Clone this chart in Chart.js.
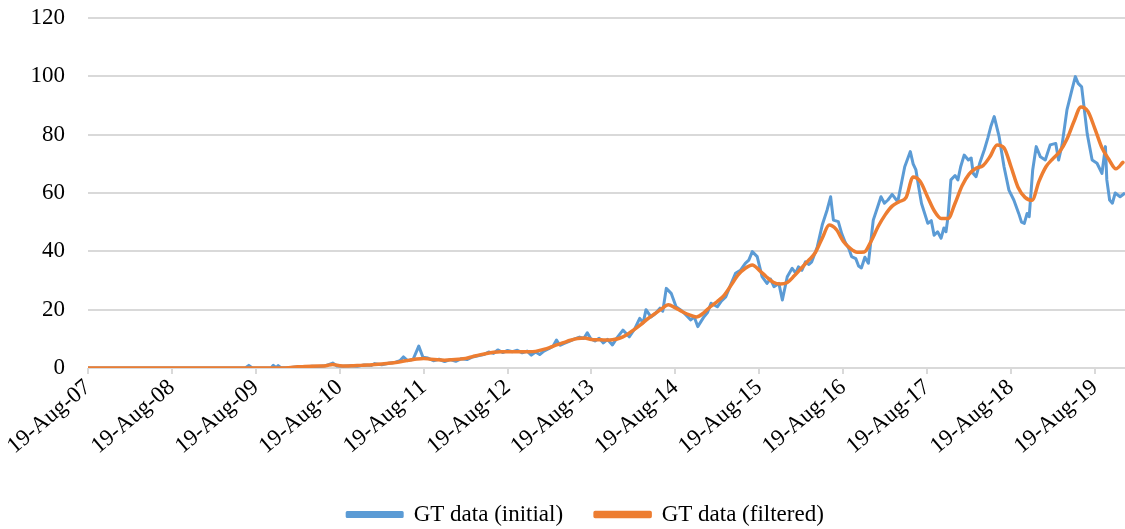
<!DOCTYPE html>
<html>
<head>
<meta charset="utf-8">
<title>GT data</title>
<script src="https://cdn.jsdelivr.net/npm/chart.js@4.4.1/dist/chart.umd.min.js"></script>
<style>
  html, body { margin: 0; padding: 0; background: #fff; }
  #wrap { width: 1125px; height: 529px; }
</style>
</head>
<body>
<div id="wrap"><canvas id="gtChart" width="1125" height="529"></canvas></div>
<script>
// x = months since 19-Aug-07
const yearLabels = ['19-Aug-07', '19-Aug-08', '19-Aug-09', '19-Aug-10', '19-Aug-11', '19-Aug-12',
  '19-Aug-13', '19-Aug-14', '19-Aug-15', '19-Aug-16', '19-Aug-17', '19-Aug-18', '19-Aug-19'];
const yTicks = [0, 20, 40, 60, 80, 100, 120];

// GT data (filtered), one value per month, month 0..148
const filteredValues = [
  0, 0, 0, 0, 0, 0, 0, 0, 0, 0, 0, 0, 0, 0, 0, 0, 0, 0, 0, 0, 0, 0, 0, 0, 0, 0, 0, 0, 0,
  0.2, 0.4, 0.5, 0.6, 0.7, 0.8, 1.2, 0.8, 0.7, 0.8, 0.9, 1.0, 1.2, 1.4, 1.6, 1.9, 2.3, 2.7, 3.1, 3.3,
  3.0, 2.8, 2.7, 2.8, 3.0, 3.3, 3.9, 4.5, 5.0, 5.4, 5.6, 5.6,
  5.6, 5.6, 5.6, 5.7, 6.3, 7.0, 7.9, 8.7, 9.5, 10.1, 10.3, 9.8,
  9.7, 9.6, 9.7, 10.2, 11.3, 13.0, 14.8, 16.8, 18.5, 20.2, 21.7, 20.6,
  19.3, 18.2, 17.5, 18.8, 21.0, 22.8, 25.0, 28.5, 32.0, 34.2, 35.3, 33.5,
  31.3, 29.4, 28.8, 29.3, 31.6, 34.2, 36.8, 39.5, 44.5, 49.0, 47.5, 43.5,
  41.0, 39.7, 39.8, 43.5, 48.5, 52.5, 55.5, 57.0, 58.5, 65.5, 64.0, 59.0,
  54.0, 51.3, 51.3, 56.5, 62.5, 66.5, 68.5, 69.4, 72.5, 76.5, 75.5, 69.0,
  62.0, 58.5, 57.5, 64.0, 69.0, 71.8, 74.3, 78.5, 84.5, 89.5, 88.0, 82.0,
  75.5, 71.5, 68.3, 70.5
];

// GT data (initial), read at irregular points (months since 19-Aug-07)
const initialMonths = [
  0, 22.5, 23, 23.5, 26.2, 26.5, 26.9, 27.2, 27.6, 29, 30, 31, 32, 33, 34, 35, 35.6, 36.5, 37.5, 38.5,
  39.5, 40.5, 41, 42, 43, 44, 44.6, 45.1, 45.7, 46.5, 47.3, 47.9, 48.6, 49.4, 50.2, 51, 51.8, 52.6, 53.4, 54.2,
  55, 55.8, 56.6, 57.3, 58, 58.6, 59.3, 60, 60.7, 61.4, 62.1, 62.8, 63.4, 64, 64.6, 65.2, 65.9, 66.5, 67, 67.5,
  68.2, 68.9, 69.6, 70.3, 70.9, 71.4, 71.9, 72.5, 73.1, 73.7, 74.3, 75, 75.7, 76.5, 77.4, 78.2, 78.9, 79.4, 79.8, 80.5,
  81.1, 81.8, 82.2, 82.7, 83.4, 84.1, 84.7, 85.3, 86.2, 86.7, 87.2, 88.1, 88.6, 89.1, 90, 90.6, 91.2, 91.9, 92.6, 93.3,
  94, 94.5, 95, 95.7, 96.4, 97.1, 97.6, 98.1, 98.8, 99.3, 100, 100.7, 101.2, 101.6, 102.1, 102.6, 103.1, 103.5, 104.3, 105,
  105.7, 106.2, 106.6, 107.3, 107.8, 108.3, 108.8, 109.2, 109.8, 110.2, 110.6, 111.1, 111.6, 112.3, 112.9, 113.4, 113.9, 114.4, 115, 115.8,
  116.3, 116.8, 117.6, 118, 118.4, 118.8, 119.2, 120.1, 120.6, 121, 121.5, 122, 122.4, 122.7, 123, 123.4, 124, 124.4, 124.8, 125.3,
  125.9, 126.3, 126.6, 127, 127.5, 128.2, 128.7, 129.1, 129.6, 130.3, 131, 131.7, 132.4, 133.1, 133.5, 133.9, 134.3, 134.6, 135.1, 135.6,
  136.2, 136.9, 137.6, 138.4, 138.8, 139.3, 140, 140.7, 141.2, 141.6, 142.1, 142.9, 143.6, 144.3, 145, 145.5, 145.7, 146.1, 146.5, 146.9,
  147.6, 148.3
];
const initialValues = [
  0, 0, 0.9, 0, 0.1, 0.9, 0.1, 0.8, 0.1, 0.2, 0.4, 0.3, 0.6, 0.5, 0.8, 1.7, 0.7, 0.6, 0.8, 0.6,
  1.0, 0.9, 1.5, 1.1, 1.6, 2.0, 2.5, 3.8, 2.5, 3.0, 7.5, 3.7, 3.4, 2.5, 3.0, 2.2, 2.9, 2.3, 3.2, 2.9,
  3.8, 4.2, 4.6, 5.5, 5.0, 6.2, 5.3, 6.0, 5.6, 6.1, 5.2, 5.8, 4.4, 5.5, 4.6, 5.8, 6.6, 7.5, 9.6, 7.8,
  8.5, 9.2, 10.0, 10.6, 10.1, 12.1, 10.0, 9.3, 10.2, 8.6, 9.8, 7.9, 10.5, 13.0, 10.7, 13.5, 17.0, 15.5, 20.0, 17.5,
  18.6, 20.5, 19.5, 27.3, 25.6, 21.0, 20.0, 18.7, 16.5, 17.5, 14.2, 17.6, 19.0, 22.2, 21.0, 23.0, 24.4, 28.5, 32.5, 33.5,
  35.9, 37.0, 39.9, 38.2, 31.3, 29.0, 30.5, 27.9, 29.0, 23.3, 31.3, 34.2, 32.5, 34.7, 33.5, 36.4, 35.5, 36.4, 41.6, 49.0,
  54.2, 58.7, 50.7, 50.2, 46.0, 43.0, 41.0, 38.2, 37.5, 35.0, 34.3, 38.0, 35.9, 50.7, 55.0, 58.7, 56.5, 57.6, 59.5, 57.0,
  63.0, 69.0, 74.2, 70.0, 67.9, 62.0, 56.4, 49.6, 50.5, 45.5, 46.7, 44.5, 48.0, 46.7, 52.0, 64.5, 66.0, 64.5, 69.0, 73.0,
  71.3, 72.0, 66.7, 65.6, 70.0, 74.9, 79.0, 82.7, 86.2, 79.3, 69.0, 61.0, 57.6, 53.0, 50.0, 49.6, 53.0, 51.9, 67.9, 75.9,
  72.4, 71.3, 76.5, 77.0, 71.3, 76.5, 88.5, 95.3, 99.9, 97.6, 96.4, 80.2, 71.3, 70.2, 66.7, 75.9, 64.5, 57.6, 56.5, 60.0,
  58.7, 60.0
];

const fontFamily = '"Liberation Serif", "Times New Roman", serif';
const gridColor = '#d9d9d9';

const initialPoints = initialMonths.map((m, i) => ({ x: m, y: initialValues[i] }));
const filteredPoints = filteredValues.map((v, i) => ({ x: i, y: v }));

// the legend in the original sits a bit left of the plot-area centre
const legendShift = {
  id: 'legendShift',
  afterLayout: function (chart) {
    chart.legend.left -= 21;
    chart.legend.right -= 21;
  }
};

const ctx = document.getElementById('gtChart').getContext('2d');
new Chart(ctx, {
  type: 'line',
  data: {
    datasets: [
      {
        label: 'GT data (filtered)',
        data: filteredPoints,
        borderColor: '#ED7D31',
        backgroundColor: '#ED7D31',
        borderWidth: 3.5,
        pointRadius: 0,
        cubicInterpolationMode: 'monotone',
        borderJoinStyle: 'round',
        borderCapStyle: 'round'
      },
      {
        label: 'GT data (initial)',
        data: initialPoints,
        borderColor: '#5B9BD5',
        backgroundColor: '#5B9BD5',
        borderWidth: 3,
        pointRadius: 0,
        tension: 0,
        borderJoinStyle: 'round'
      }
    ]
  },
  plugins: [legendShift],
  options: {
    responsive: false,
    animation: false,
    layout: { padding: { top: 18, right: 0, bottom: -7, left: 0 } },
    scales: {
      x: {
        type: 'linear',
        min: 0,
        max: 148.3,
        afterBuildTicks: function (scale) {
          scale.ticks = yearLabels.map((l, i) => ({ value: i * 12 }));
        },
        afterFit: function (scale) {
          scale.height = 103;
          scale.paddingLeft = 0;
          scale.paddingRight = 0;
        },
        grid: { drawOnChartArea: false, drawTicks: true, tickLength: 6, color: gridColor, lineWidth: 2 },
        border: { display: false },
        ticks: {
          autoSkip: false,
          minRotation: 40,
          maxRotation: 40,
          padding: 0,
          color: '#000',
          font: { family: fontFamily, size: 23 },
          callback: function (value) {
            return yearLabels[Math.round(value / 12)];
          }
        }
      },
      y: {
        min: 0,
        max: 120,
        afterBuildTicks: function (scale) {
          scale.ticks = yTicks.map(v => ({ value: v }));
        },
        afterFit: function (scale) {
          scale.width = 88;
          scale.paddingTop = 0;
          scale.paddingBottom = 0;
        },
        grid: { color: gridColor, lineWidth: 2, drawTicks: false },
        border: { display: false },
        ticks: {
          padding: 23,
          color: '#000',
          font: { family: fontFamily, size: 23 }
        }
      }
    },
    plugins: {
      legend: {
        position: 'bottom',
        fullSize: false,
        reverse: true,
        labels: {
          boxWidth: 55,
          boxHeight: 4,
          padding: 32,
          color: '#000',
          font: { family: fontFamily, size: 23 }
        }
      },
      tooltip: { enabled: false }
    }
  }
});
</script>
</body>
</html>
